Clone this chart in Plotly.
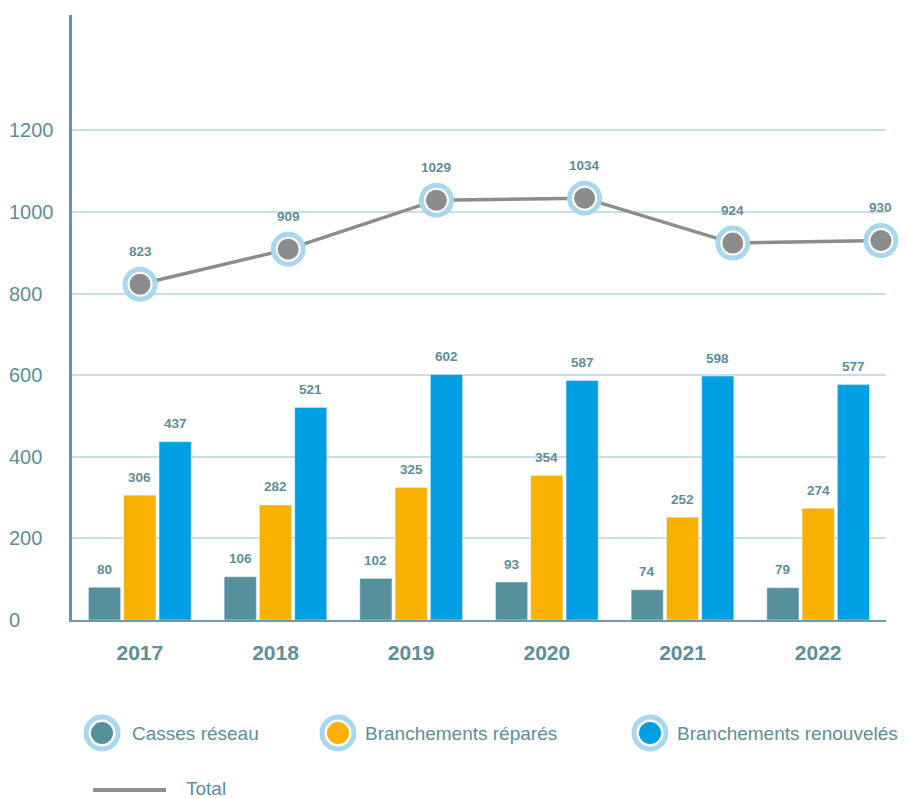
import plotly.graph_objects as go

years = ["2017", "2018", "2019", "2020", "2021", "2022"]
casses = [80, 106, 102, 93, 74, 79]
repares = [306, 282, 325, 354, 252, 274]
renouveles = [437, 521, 602, 587, 598, 577]
total = [823, 909, 1029, 1034, 924, 930]
yticks = [0, 200, 400, 600, 800, 1000, 1200]

FONT = "Liberation Sans, Arial, sans-serif"
TXT = "#5B8F9B"
C_TEAL = "#56909D"
C_ORANGE = "#F8B100"
C_BLUE = "#009FE3"
RING = "#A9D7F0"
GRAY = "#8C8C8C"

OFF = 8  # page body margin
W, H = 907 - OFF, 798 - OFF
X0, X1, Y0, Y1 = 72, 886, 15, 620  # plot area in screen px
L, R, T, B = X0 - OFF, W - (X1 - OFF), Y0 - OFF, H - (Y1 - OFF)
PW, PH = W - L - R, H - T - B
YMAX = 1483
BARGAP, GROUPGAP = 0.22, 0.09

series = [("Casses réseau", casses, C_TEAL),
          ("Branchements réparés", repares, C_ORANGE),
          ("Branchements renouvelés", renouveles, C_BLUE)]

fig = go.Figure()
for name, vals, col in series:
    fig.add_trace(go.Bar(x=years, y=vals, name=name, marker_color=col, showlegend=False))

slot = PW / len(years) * (1 - BARGAP) / len(series)
for k, (name, vals, col) in enumerate(series):
    for i, v in enumerate(vals):
        fig.add_annotation(x=i, y=v, xref="x", yref="y", text=str(v), showarrow=False,
                           xshift=(k - 1) * slot, yshift=18, yanchor="middle",
                           font=dict(family=FONT, size=13.5, color=TXT, weight="bold"))

idx = list(range(len(total)))
fig.add_trace(go.Scatter(x=idx, y=total, xaxis="x2", mode="lines",
                         line=dict(color=GRAY, width=3.5), showlegend=False))
fig.add_trace(go.Scatter(x=idx, y=total, xaxis="x2", mode="markers",
                         marker=dict(size=30, color="white", line=dict(color=RING, width=5)),
                         showlegend=False, cliponaxis=False))
fig.add_trace(go.Scatter(x=idx, y=total, xaxis="x2", mode="markers",
                         marker=dict(size=21, color=GRAY), showlegend=False, cliponaxis=False))

for i, v in enumerate(total):
    fig.add_annotation(x=i, y=v, xref="x2", yref="y", text=str(v), showarrow=False,
                       yshift=33, yanchor="middle",
                       font=dict(family=FONT, size=13.5, color=TXT, weight="bold"))

def px(xs):
    return (xs - OFF - L) / PW

def py(ys):
    return (H - B - (ys - OFF)) / PH

for t in yticks:
    fig.add_annotation(x=px(7), xref="paper", y=t, yref="y", text=str(t), showarrow=False,
                       xanchor="left", yanchor="middle",
                       font=dict(family=FONT, size=20, color=TXT))

leg = [(102, 130, "Casses réseau", C_TEAL), (338, 363, "Branchements réparés", C_ORANGE),
       (650, 675, "Branchements renouvelés", C_BLUE)]
ly = 733
for cx, tx, label, col in leg:
    fig.add_shape(type="circle", xref="paper", yref="paper",
                  x0=px(cx - 16), x1=px(cx + 16), y0=py(ly + 16), y1=py(ly - 16),
                  line=dict(color=RING, width=5), fillcolor="white", layer="above")
    fig.add_shape(type="circle", xref="paper", yref="paper",
                  x0=px(cx - 11), x1=px(cx + 11), y0=py(ly + 11), y1=py(ly - 11),
                  line=dict(width=0), fillcolor=col, layer="above")
    fig.add_annotation(x=px(tx), y=py(ly), xref="paper", yref="paper", text=label,
                       showarrow=False, xanchor="left", yanchor="middle",
                       font=dict(family=FONT, size=19, color=TXT))
fig.add_shape(type="line", xref="paper", yref="paper", x0=px(93), x1=px(166),
              y0=py(790), y1=py(790), line=dict(color="#8F8F8F", width=4), layer="above")
fig.add_annotation(x=px(184), y=py(788), xref="paper", yref="paper", text="Total",
                   showarrow=False, xanchor="left", yanchor="middle",
                   font=dict(family=FONT, size=19, color=TXT))

fig.update_layout(
    width=W, height=H, margin=dict(l=L, r=R, t=T, b=B),
    paper_bgcolor="white", plot_bgcolor="white",
    barmode="group", bargap=BARGAP, bargroupgap=GROUPGAP,
    xaxis=dict(type="category", showgrid=False, showline=True, linecolor="#6A9DA8", linewidth=2,
               ticks="", ticklabelstandoff=13,
               tickfont=dict(family=FONT, size=21, color=TXT, weight="bold"),
               range=[-0.5, 5.5], zeroline=False),
    xaxis2=dict(overlaying="x", range=[-0.459, 5.034], visible=False),
    yaxis=dict(range=[0, YMAX], tickvals=[200, 400, 600, 800, 1000, 1200], showticklabels=False,
               showgrid=True, gridcolor="#C9DFE4", gridwidth=1.5, showline=True,
               linecolor="#5A9AA6", linewidth=2.5, zeroline=False, ticks=""),
)

fig.write_html("out.html")
